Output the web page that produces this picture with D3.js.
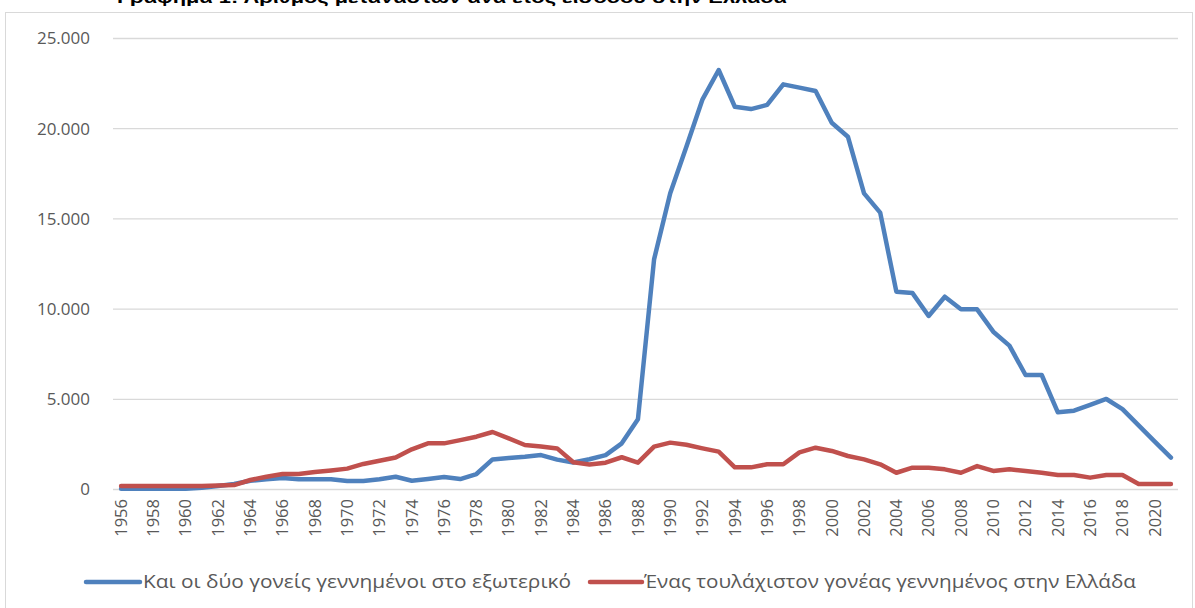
<!DOCTYPE html>
<html><head><meta charset="utf-8">
<script src="https://cdn.jsdelivr.net/npm/d3@7"></script>
<style>body{margin:0;background:#fff;overflow:hidden}svg{display:block}</style>
</head><body>
<svg id="c" width="1195" height="608"></svg>
<script>
const years = d3.range(1956, 2022);
const tickYears = d3.range(1956, 2021, 2);
const yTicks = [0, 5000, 10000, 15000, 20000, 25000];
const seriesNames = ["Και οι δύο γονείς γεννημένοι στο εξωτερικό", "Ένας τουλάχιστον γονέας γεννημένος στην Ελλάδα"];
const blueValues = [20,20,20,20,20,70,165,280,460,540,610,540,540,540,440,440,540,680,460,550,660,550,830,1640,1720,1790,1880,1630,1470,1650,1880,2530,3860,12730,16390,18970,21600,23225,21190,21060,21290,22430,22250,22060,20300,19530,16390,15320,10940,10860,9590,10660,9960,9960,8720,7950,6320,6320,4250,4340,4660,4990,4430,3530,2630,1740];
const redValues = [170,170,170,170,170,170,200,220,500,680,830,830,940,1030,1130,1390,1570,1750,2200,2530,2530,2710,2900,3160,2810,2440,2350,2250,1480,1360,1460,1760,1460,2350,2570,2450,2250,2070,1200,1200,1370,1370,2030,2290,2110,1830,1640,1370,900,1180,1180,1090,900,1270,1000,1090,1000,900,780,780,630,780,780,280,280,280];
const title = "Γράφημα 1: Αριθμός μεταναστών ανά έτος εισόδου στην Ελλάδα";
const colors = ["#4F81BD", "#C0504D"];

const svg = d3.select("#c");
const font = "'Open Sans', 'Noto Sans', sans-serif";

svg.append("rect").attr("x", 5.5).attr("y", 12.5).attr("width", 1187).attr("height", 640)
  .attr("fill", "#fff").attr("stroke", "#d9d9d9").attr("stroke-width", 1);

svg.append("text").attr("x", 117).attr("y", 3).attr("font-family", "Liberation Sans, Arial, sans-serif")
  .attr("font-weight", "bold").attr("font-size", 17).attr("fill", "#000")
  .attr("textLength", 670).attr("lengthAdjust", "spacingAndGlyphs").text(title);

const x = d3.scaleBand().domain(years).range([113, 1179]).padding(0);
const y = d3.scaleLinear().domain([0, 25000]).range([489, 38]);

const fmt = v => v === 0 ? "0" : d3.format(",")(v).replace(/,/g, ".");

svg.append("g").attr("transform", "translate(113,0)")
  .call(d3.axisLeft(y).tickValues(yTicks).tickSize(-1065).tickFormat(""))
  .call(g => g.select(".domain").remove())
  .call(g => g.selectAll("line").attr("stroke", "#d9d9d9").attr("stroke-width", 1.3));

svg.append("g").attr("transform", "translate(90,0)")
  .call(d3.axisLeft(y).tickValues(yTicks).tickSize(0).tickPadding(0).tickFormat(fmt))
  .call(g => g.select(".domain").remove())
  .call(g => g.selectAll("text").attr("font-family", font).attr("font-size", 17).attr("fill", "#595959").attr("dy", "0.35em"));

const xa = svg.append("g").attr("transform", "translate(0,489)")
  .call(d3.axisBottom(x).tickValues(tickYears).tickSize(0).tickFormat(d => d));
xa.select(".domain").remove();
xa.selectAll("text").attr("font-family", font).attr("font-size", 16.5).attr("fill", "#595959")
  .attr("text-anchor", "end").attr("transform", "rotate(-90)").attr("x", -10).attr("y", 0).attr("dy", "0.35em");

const line = d3.line().x((d, i) => x(years[i]) + x.bandwidth() / 2).y(d => y(d));
[blueValues, redValues].forEach((vals, k) => {
  svg.append("path").datum(vals).attr("d", line).attr("fill", "none")
    .attr("stroke", colors[k]).attr("stroke-width", 4.5).attr("stroke-linejoin", "round").attr("stroke-linecap", "round");
});

const legend = [{x1: 86, x2: 140, tx: 143, tl: 428}, {x1: 590, x2: 642, tx: 644, tl: 492}];
legend.forEach((l, k) => {
  svg.append("line").attr("x1", l.x1).attr("x2", l.x2).attr("y1", 582).attr("y2", 582)
    .attr("stroke", colors[k]).attr("stroke-width", 4.5).attr("stroke-linecap", "round");
  svg.append("text").attr("x", l.tx).attr("y", 582).attr("dy", "0.35em").attr("font-family", font)
    .attr("font-size", 18).attr("fill", "#595959").attr("textLength", l.tl).attr("lengthAdjust", "spacingAndGlyphs")
    .text(seriesNames[k]);
});
</script>
</body></html>
